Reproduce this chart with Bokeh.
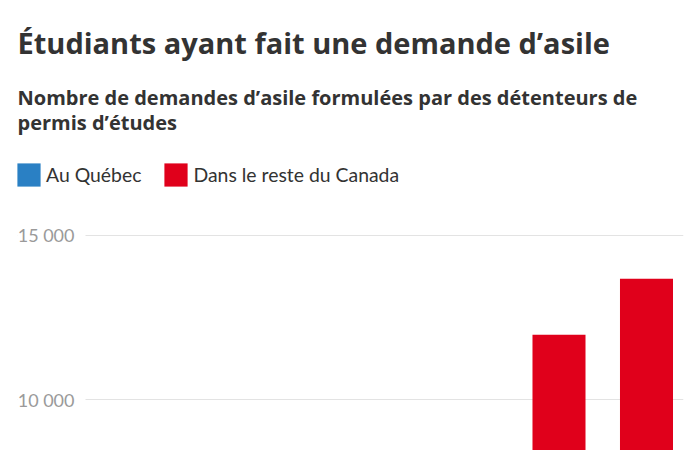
from bokeh.plotting import figure
from bokeh.models import (ColumnDataSource, Range1d, FixedTicker, Title, Legend,
                          LegendItem, BoxAnnotation)
from bokeh.embed import file_html
from bokeh.resources import INLINE

# ---- data (values read / estimated from the picture) ----
years = [2018, 2019, 2020, 2021, 2022, 2023, 2024]
quebec = [590, 1000, 600, 660, 1640, 4780, 5520]
reste = [1220, 1645, 995, 1150, 2630, 7200, 8160]
tick_values = [0, 5000, 10000, 15000]
tick_labels = ["0", "5 000", "10 000", "15 000"]

title_text = "Étudiants ayant fait une demande d’asile"
subtitle_lines = ["Nombre de demandes d’asile formulées par des détenteurs de",
                  "permis d’études"]
series_names = ["Au Québec", "Dans le reste du Canada"]
colors = ["#2a80c4", "#e0001b"]

HEAD_FONT = "Open Sans"
FONT = "Lato"
TXT = "#333333"

X0, X1 = 2016.811, 2024.423
source = ColumnDataSource(dict(year=years, quebec=quebec, reste=reste))

p = figure(width=700, height=450, output_backend="svg", toolbar_location=None,
           title=None,
           x_range=Range1d(X0, X1),
           y_range=Range1d(8464, 18003),
           min_border_left=17, min_border_right=17, min_border_bottom=0,
           min_border_top=0, outline_line_color=None,
           background_fill_color="white", border_fill_color="white")

# grid lines start right of the tick labels
p.add_layout(BoxAnnotation(left=X0, right=X0 + 68 / 87.5, fill_color="white",
                           fill_alpha=1, line_color=None, level="underlay"))

rs = p.vbar_stack(["quebec", "reste"], x="year", width=0.606, color=colors,
                  line_color=None, source=source)

# axes
p.xaxis.visible = False
p.xgrid.visible = False
p.yaxis.ticker = FixedTicker(ticks=tick_values)
p.yaxis.major_label_overrides = {v: l for v, l in zip(tick_values, tick_labels)}
p.yaxis.axis_line_color = None
p.yaxis.major_tick_line_color = None
p.yaxis.minor_tick_line_color = None
p.yaxis.major_tick_out = 0
p.yaxis.major_tick_in = 0
p.yaxis.major_label_standoff = -57
p.yaxis.major_label_text_font = FONT
p.yaxis.major_label_text_font_size = "18px"
p.yaxis.major_label_text_color = "#9a9a9a"
p.ygrid.grid_line_color = "#e3e3e3"
p.ygrid.grid_line_width = 1

# legend (pixels from the frame's bottom-left corner)
legend = Legend(items=[LegendItem(label=n, renderers=[r]) for n, r in zip(series_names, rs)],
                orientation="horizontal", location=(-3, 261),
                glyph_width=29, glyph_height=29, label_standoff=3, spacing=20,
                label_text_font=FONT, label_text_font_size="19.4px",
                label_text_color=TXT, margin=0, padding=0,
                border_line_color=None, background_fill_alpha=0)
p.add_layout(legend, "center")

p.add_layout(Title(text="\n".join(subtitle_lines), text_font=HEAD_FONT,
                   text_font_size="20px", text_font_style="bold", text_color=TXT,
                   text_line_height=0.94, offset=0, standoff=0), "above")

p.add_layout(Title(text=title_text, text_font=HEAD_FONT, text_font_size="29px",
                   text_font_style="bold", text_color=TXT, offset=0,
                   standoff=41), "above")

open("out.html", "w").write(file_html(p, INLINE))
